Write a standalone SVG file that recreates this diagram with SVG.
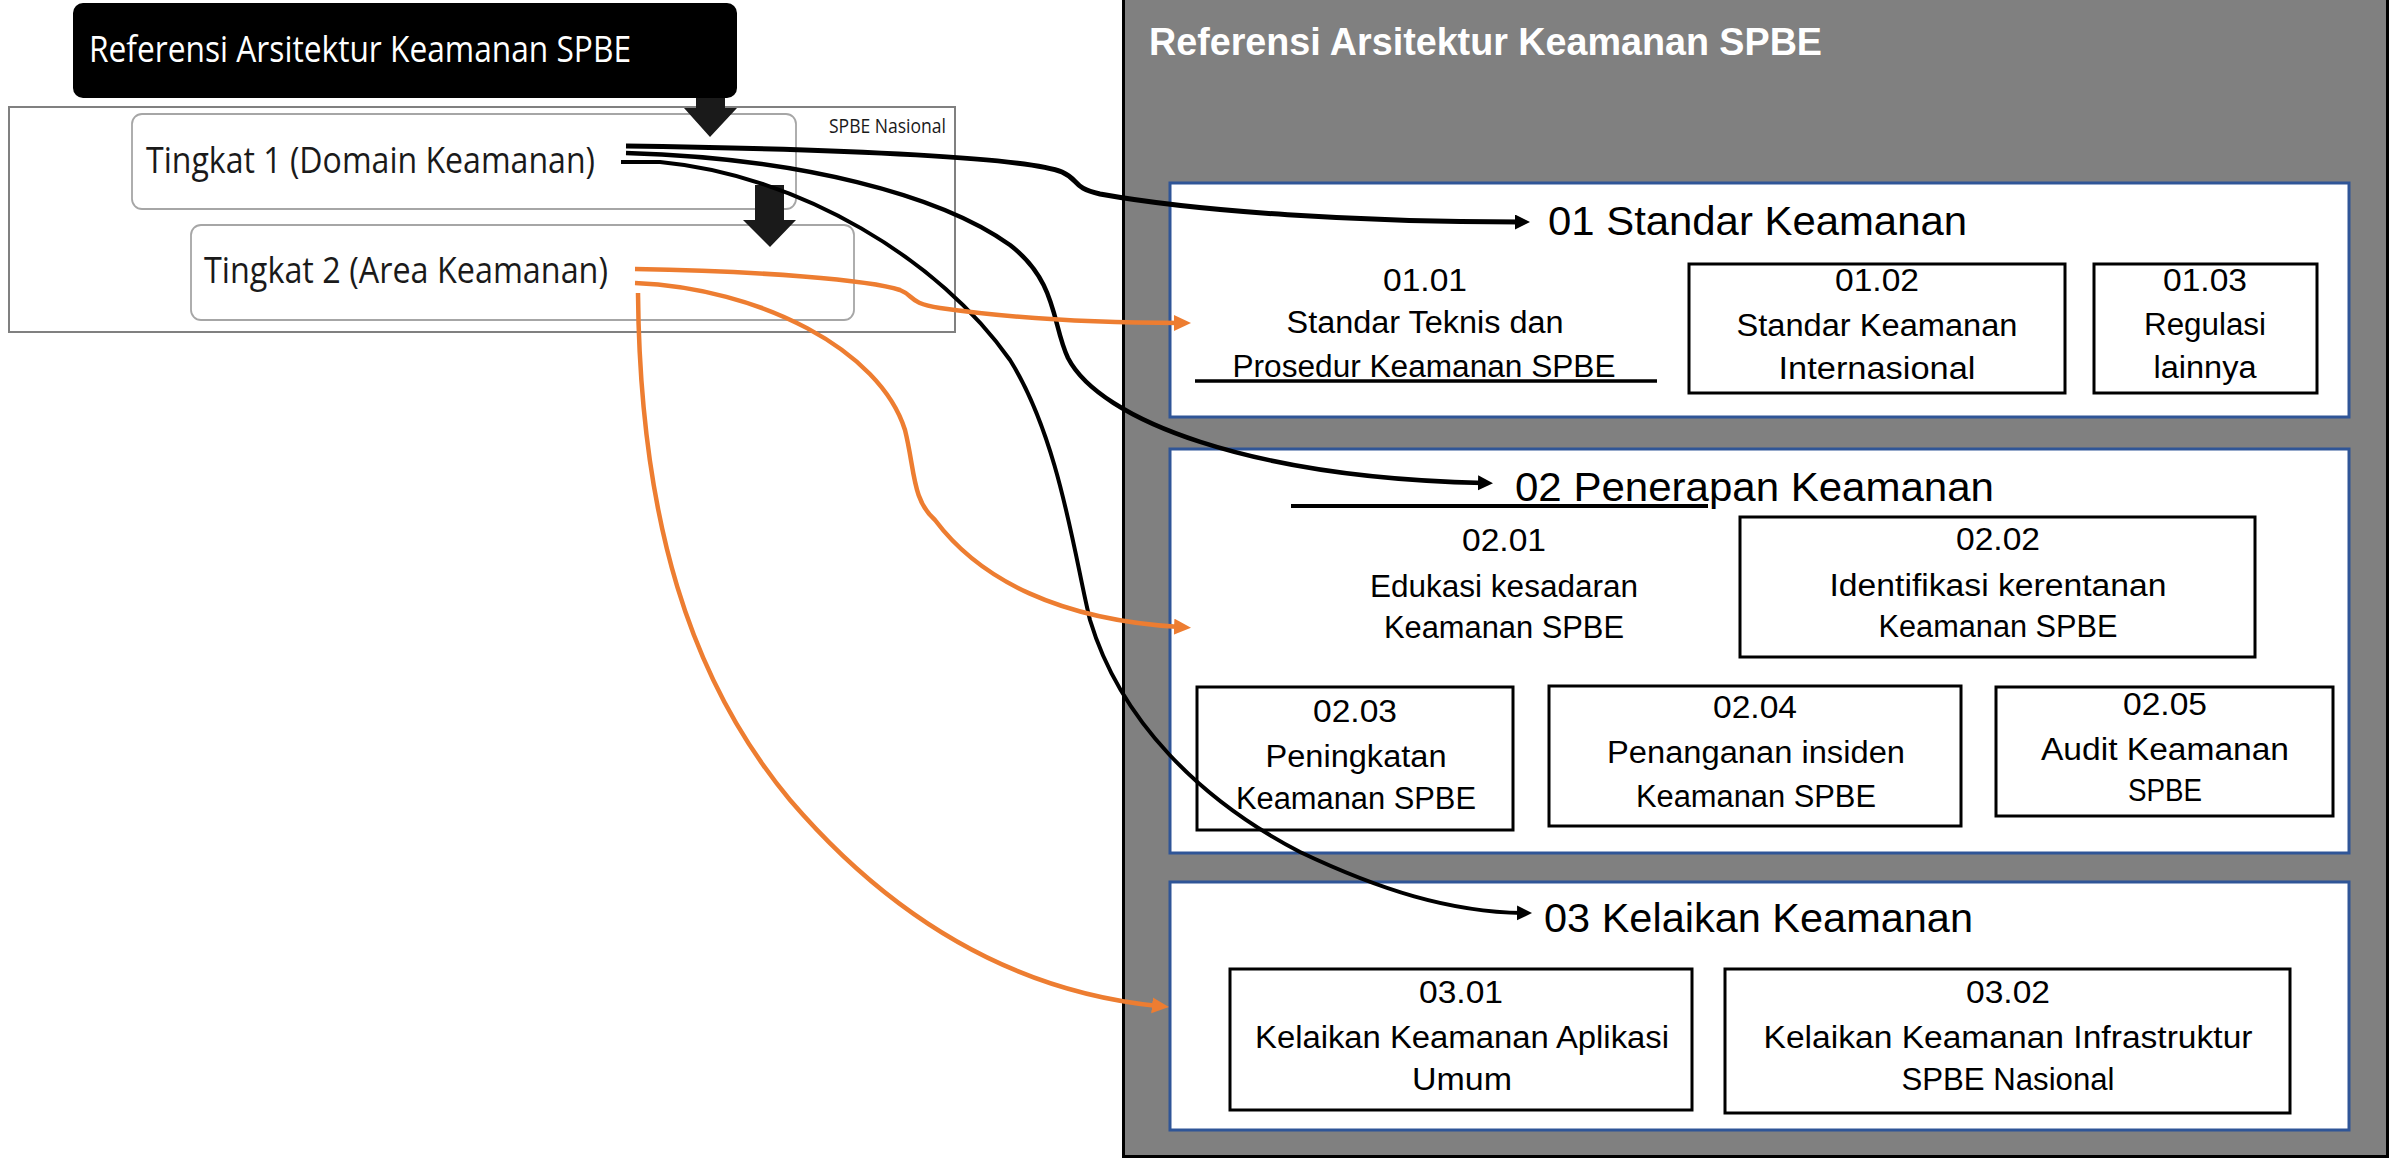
<svg xmlns="http://www.w3.org/2000/svg" width="2389" height="1158" viewBox="0 0 2389 1158">
<defs>
<style>
.t{font-family:"Liberation Sans",Arial,sans-serif;fill:#000;}
.s{font-size:31px;text-anchor:middle;}
.h{font-size:41px;}
.lt{font-family:"Open Sans","Liberation Sans",sans-serif;fill:#1a1a1a;}
.box{fill:#fff;stroke:#000;stroke-width:3;}
.blue{fill:#fff;stroke:#2F5597;stroke-width:3;}
.rbox{fill:#fff;stroke:#a6a6a6;stroke-width:1.8;}
.k{fill:none;stroke:#000;stroke-linecap:butt;}
.o{fill:none;stroke:#ED7D31;stroke-width:4.5;}
</style>
<marker id="ak" markerUnits="userSpaceOnUse" markerWidth="20" markerHeight="20" refX="6" refY="7.5" orient="auto"><path d="M0,0 L15,7.5 L0,15 Z" fill="#000"/></marker>
<marker id="ao" markerUnits="userSpaceOnUse" markerWidth="20" markerHeight="20" refX="6" refY="8" orient="auto"><path d="M0,0 L17,8 L0,16 Z" fill="#ED7D31"/></marker>
</defs>
<rect width="2389" height="1158" fill="#fff"/>

<g id="left-frame">
<rect x="9" y="107" width="946" height="225" fill="#fff" stroke="#808080" stroke-width="2"/>
<text class="lt" x="829" y="133" font-size="20" textLength="117" lengthAdjust="spacingAndGlyphs" fill="#333">SPBE Nasional</text>
</g>
<g id="tingkat1">
<rect class="rbox" x="132" y="114" width="664" height="95" rx="10"/>
<text class="lt" x="146" y="173" font-size="36" textLength="449" lengthAdjust="spacingAndGlyphs">Tingkat 1 (Domain Keamanan)</text>
</g>
<g id="tingkat2">
<rect class="rbox" x="191" y="225" width="663" height="95" rx="10"/>
<text class="lt" x="204" y="283" font-size="36" textLength="404" lengthAdjust="spacingAndGlyphs">Tingkat 2 (Area Keamanan)</text>
</g>
<g id="arrow1"><polygon points="696,95 725,95 725,108 737,108 710,137 684,108 696,108" fill="#1a1a1a"/></g>
<g id="title-left">
<rect x="73" y="3" width="664" height="95" rx="10" fill="#000"/>
<text x="89" y="62" font-family="'Open Sans','Liberation Sans',sans-serif" font-size="37" fill="#fff" textLength="542" lengthAdjust="spacingAndGlyphs">Referensi Arsitektur Keamanan SPBE</text>
</g>
<g id="arrow2"><polygon points="755,185 784,185 784,220 796,220 770,247 743,220 755,220" fill="#1a1a1a"/></g>

<g id="panel">
<rect x="1123.5" y="-5" width="1264" height="1161.5" fill="#808080" stroke="#000" stroke-width="3"/>
<text class="t" x="1149" y="55" font-size="38" font-weight="bold" style="fill:#fff" textLength="673" lengthAdjust="spacingAndGlyphs">Referensi Arsitektur Keamanan SPBE</text>
</g>

<g id="domain01">
<rect class="blue" x="1170" y="183" width="1179" height="234"/>
<text class="t h" x="1548" y="235" textLength="419" lengthAdjust="spacingAndGlyphs">01 Standar Keamanan</text>
</g>
<g id="area0101">
<text class="t s" x="1425" y="291" textLength="84" lengthAdjust="spacingAndGlyphs">01.01</text>
<text class="t s" x="1425" y="333" textLength="277" lengthAdjust="spacingAndGlyphs">Standar Teknis dan</text>
<text class="t s" x="1424" y="377" textLength="383" lengthAdjust="spacingAndGlyphs">Prosedur Keamanan SPBE</text>
</g>
<g id="area0102">
<rect class="box" x="1689" y="264" width="376" height="129"/>
<text class="t s" x="1877" y="291" textLength="84" lengthAdjust="spacingAndGlyphs">01.02</text>
<text class="t s" x="1877" y="336" textLength="281" lengthAdjust="spacingAndGlyphs">Standar Keamanan</text>
<text class="t s" x="1877" y="379" textLength="197" lengthAdjust="spacingAndGlyphs">Internasional</text>
</g>
<g id="area0103">
<rect class="box" x="2094" y="264" width="223" height="129"/>
<text class="t s" x="2205" y="291" textLength="84" lengthAdjust="spacingAndGlyphs">01.03</text>
<text class="t s" x="2205" y="335" textLength="122" lengthAdjust="spacingAndGlyphs">Regulasi</text>
<text class="t s" x="2205" y="378" textLength="103" lengthAdjust="spacingAndGlyphs">lainnya</text>
</g>

<g id="domain02">
<rect class="blue" x="1170" y="449" width="1179" height="404"/>
<text class="t h" x="1515" y="501" textLength="479" lengthAdjust="spacingAndGlyphs">02 Penerapan Keamanan</text>
</g>
<g id="area0201">
<text class="t s" x="1504" y="551" textLength="84" lengthAdjust="spacingAndGlyphs">02.01</text>
<text class="t s" x="1504" y="597" textLength="268" lengthAdjust="spacingAndGlyphs">Edukasi kesadaran</text>
<text class="t s" x="1504" y="638" textLength="240" lengthAdjust="spacingAndGlyphs">Keamanan SPBE</text>
</g>
<g id="area0202">
<rect class="box" x="1740" y="517" width="515" height="140"/>
<text class="t s" x="1998" y="550" textLength="84" lengthAdjust="spacingAndGlyphs">02.02</text>
<text class="t s" x="1998" y="596" textLength="337" lengthAdjust="spacingAndGlyphs">Identifikasi kerentanan</text>
<text class="t s" x="1998" y="637" textLength="239" lengthAdjust="spacingAndGlyphs">Keamanan SPBE</text>
</g>
<g id="area0203">
<rect class="box" x="1197" y="687" width="316" height="143"/>
<text class="t s" x="1355" y="722" textLength="84" lengthAdjust="spacingAndGlyphs">02.03</text>
<text class="t s" x="1356" y="767" textLength="181" lengthAdjust="spacingAndGlyphs">Peningkatan</text>
<text class="t s" x="1356" y="809" textLength="240" lengthAdjust="spacingAndGlyphs">Keamanan SPBE</text>
</g>
<g id="area0204">
<rect class="box" x="1549" y="686" width="412" height="140"/>
<text class="t s" x="1755" y="718" textLength="84" lengthAdjust="spacingAndGlyphs">02.04</text>
<text class="t s" x="1756" y="763" textLength="298" lengthAdjust="spacingAndGlyphs">Penanganan insiden</text>
<text class="t s" x="1756" y="807" textLength="240" lengthAdjust="spacingAndGlyphs">Keamanan SPBE</text>
</g>
<g id="area0205">
<rect class="box" x="1996" y="687" width="337" height="129"/>
<text class="t s" x="2165" y="715" textLength="84" lengthAdjust="spacingAndGlyphs">02.05</text>
<text class="t s" x="2165" y="760" textLength="248" lengthAdjust="spacingAndGlyphs">Audit Keamanan</text>
<text class="t s" x="2165" y="801" textLength="74" lengthAdjust="spacingAndGlyphs">SPBE</text>
</g>

<g id="domain03">
<rect class="blue" x="1170" y="882" width="1179" height="248"/>
<text class="t h" x="1544" y="932" textLength="429" lengthAdjust="spacingAndGlyphs">03 Kelaikan Keamanan</text>
</g>
<g id="area0301">
<rect class="box" x="1230" y="969" width="462" height="141"/>
<text class="t s" x="1461" y="1003" textLength="84" lengthAdjust="spacingAndGlyphs">03.01</text>
<text class="t s" x="1462" y="1048" textLength="414" lengthAdjust="spacingAndGlyphs">Kelaikan Keamanan Aplikasi</text>
<text class="t s" x="1462" y="1090" textLength="100" lengthAdjust="spacingAndGlyphs">Umum</text>
</g>
<g id="area0302">
<rect class="box" x="1725" y="969" width="565" height="144"/>
<text class="t s" x="2008" y="1003" textLength="84" lengthAdjust="spacingAndGlyphs">03.02</text>
<text class="t s" x="2008" y="1048" textLength="489" lengthAdjust="spacingAndGlyphs">Kelaikan Keamanan Infrastruktur</text>
<text class="t s" x="2008" y="1090" textLength="213" lengthAdjust="spacingAndGlyphs">SPBE Nasional</text>
</g>

<g id="connectors">
<line x1="1195" y1="381" x2="1657" y2="381" stroke="#000" stroke-width="3.5"/>
<line x1="1291" y1="506" x2="1708" y2="506" stroke="#000" stroke-width="4"/>
<path class="k" stroke-width="5" d="M626,146 C850,149 1030,158 1062,172 C1080,180 1072,188 1100,194 C1200,212 1360,222 1521,222" marker-end="url(#ak)"/>
<path class="k" stroke-width="4.5" d="M626,153 C800,158 940,195 1010,245 C1058,282 1052,325 1068,358 C1100,420 1250,478 1484,483" marker-end="url(#ak)"/>
<path class="k" stroke-width="4" d="M621,162 L660,162 C800,175 940,260 1010,360 C1060,440 1075,560 1090,620 C1120,720 1200,800 1300,852 C1380,890 1450,912 1523,913" marker-end="url(#ak)"/>
<path class="o" d="M635,269 C760,271 870,280 900,290 C915,296 908,303 940,308 C1010,318 1100,323 1180,323" marker-end="url(#ao)"/>
<path class="o" d="M635,283 C760,288 880,350 905,430 C915,470 912,500 935,520 C980,580 1060,620 1180,627" marker-end="url(#ao)"/>
<path class="o" d="M638,293 C640,520 690,680 790,800 C880,905 1000,990 1158,1006" marker-end="url(#ao)"/>
</g>
</svg>
